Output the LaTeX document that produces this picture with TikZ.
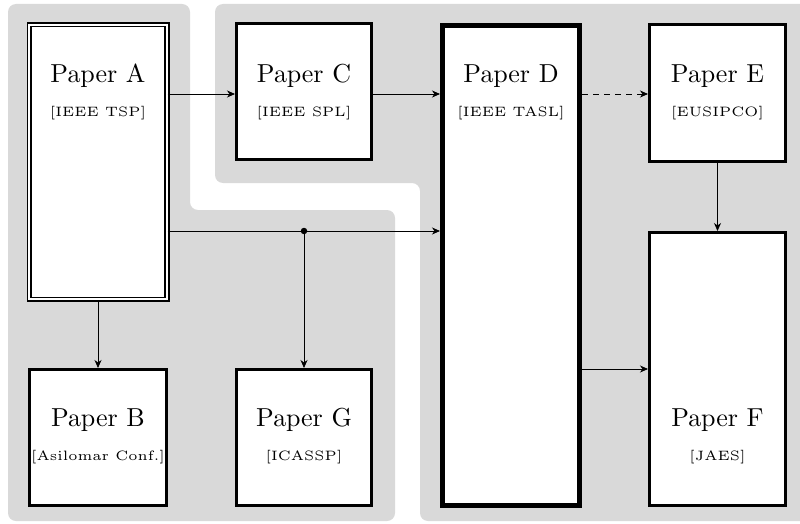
\documentclass[tikz,border=0pt]{standalone}
\usetikzlibrary{arrows.meta,calc}
\font\papertitlefont=cmr10 at 26pt
\font\papervenuefont=cmr5 at 13.6pt
\begin{document}
\begin{tikzpicture}[x=1pt,y=-1pt,
  region/.style={fill=black!15, rounded corners=8pt},
  box/.style={draw, line width=3pt, fill=white, inner sep=0pt},
  dblbox/.style={draw, line width=1.8pt, double, double distance=1.8pt, fill=white, inner sep=0pt},
  thickbox/.style={draw, line width=5pt, fill=white, inner sep=0pt},
  title/.style={font=\papertitlefont, inner sep=0pt},
  venue/.style={font=\papervenuefont, inner sep=0pt},
  arr/.style={line width=0.8pt, -{Stealth[length=8pt,width=7pt,inset=2.5pt]}},
  dot/.style={circle, fill=black, inner sep=0pt, minimum size=6.5pt}
]
\useasboundingbox (0,0) rectangle (800,524);
\clip (0,0) rectangle (800,524);
% background regions
\fill[region] (8,4) -- (190,4) -- (190,210) -- (395,210) -- (395,521) -- (8,521) -- cycle;
\fill[region] (215,4) -- (812,4) -- (812,521) -- (420,521) -- (420,183) -- (215,183) -- cycle;
% boxes
\node[dblbox, minimum width=137.6pt, minimum height=274.6pt] (a) at (98,162) {};
\node[box, minimum width=137pt, minimum height=136pt] (b) at (98,437.5) {};
\node[box, minimum width=135pt, minimum height=136pt] (c) at (304,91.5) {};
\node[thickbox, minimum width=137pt, minimum height=480pt] (d) at (511,265.5) {};
\node[box, minimum width=136pt, minimum height=137pt] (e) at (717.5,93) {};
\node[box, minimum width=136pt, minimum height=273pt] (f) at (717.5,369) {};
\node[box, minimum width=135pt, minimum height=136pt] (g) at (304,437.5) {};
% texts
\node[title] (ta) at (98,76) {Paper A};
\node[venue] (va) at (98,113) {[IEEE TSP]};
\node[title] (tc) at (304,76) {Paper C};
\node[venue] (vc) at (304,113) {[IEEE SPL]};
\node[title] (td) at (511,76) {Paper D};
\node[venue] (vd) at (511,113) {[IEEE TASL]};
\node[title] (te) at (717.5,76) {Paper E};
\node[venue] (ve) at (717.5,113) {[EUSIPCO]};
\node[title] (tb) at (98,420) {Paper B};
\node[venue] (vb) at (98,457) {[Asilomar Conf.]};
\node[title] (tg) at (304,420) {Paper G};
\node[venue] (vg) at (304,457) {[ICASSP]};
\node[title] (tf) at (717.5,420) {Paper F};
\node[venue] (vf) at (717.5,457) {[JAES]};
% connectors
\coordinate (r1) at (0,94);
\node[dot] (j) at (304,231) {};
\draw[arr] (a.east |- r1) -- (c.west |- r1);
\draw[arr] (c.east |- r1) -- (d.west |- r1);
\draw[arr, dash pattern=on 6pt off 5pt] (d.east |- r1) -- (e.west |- r1);
\draw[arr] (a.east |- j) -- (d.west |- j);
\draw[arr] (j.center) -- (g.north);
\draw[arr] (a.south) -- (b.north);
\draw[arr] (e.south) -- (f.north);
\draw[arr] (d.east |- f.west) -- (f.west);
\end{tikzpicture}
\end{document}
